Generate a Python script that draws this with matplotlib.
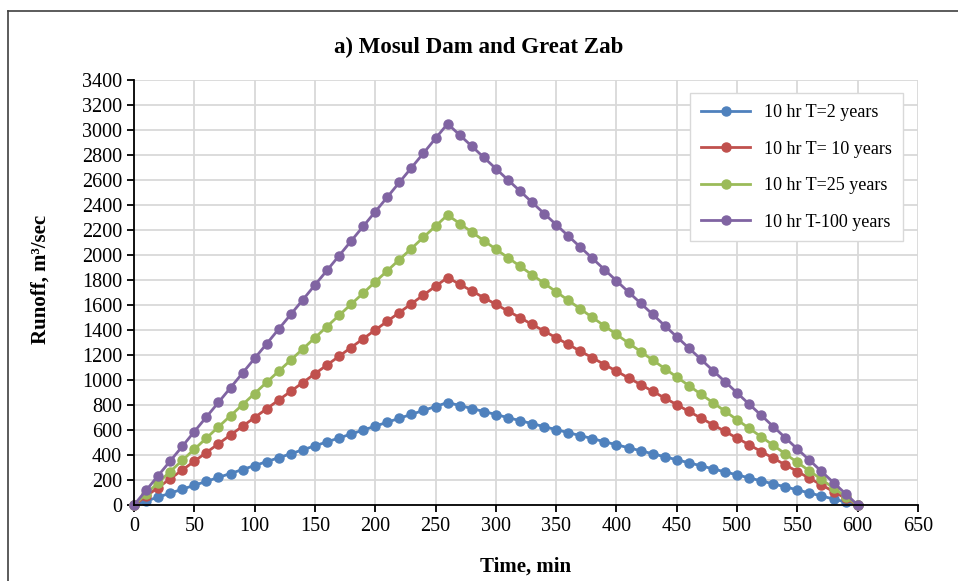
import matplotlib.pyplot as plt
from matplotlib.lines import Line2D

plt.rcParams['font.family'] = ['Liberation Serif', 'DejaVu Serif']

time_min = [0, 10, 20, 30, 40, 50, 60, 70, 80, 90, 100, 110, 120, 130, 140, 150,
            160, 170, 180, 190, 200, 210, 220, 230, 240, 250, 260, 270, 280, 290,
            300, 310, 320, 330, 340, 350, 360, 370, 380, 390, 400, 410, 420, 430,
            440, 450, 460, 470, 480, 490, 500, 510, 520, 530, 540, 550, 560, 570,
            580, 590, 600]

t2 = [0, 32, 63, 95, 126, 158, 189, 221, 252, 284, 315, 347, 378, 410, 442, 473,
      505, 536, 568, 599, 631, 662, 694, 725, 757, 788, 820,
      796, 772, 748, 724, 699, 675, 651, 627, 603, 579, 555, 531, 506, 482, 458,
      434, 410, 386, 362, 338, 314, 289, 265, 241, 217, 193, 169, 145, 121, 96,
      72, 48, 24, 0]

t10 = [0, 70, 140, 210, 280, 350, 420, 490, 560, 630, 700, 770, 840, 910, 980,
       1050, 1120, 1190, 1260, 1330, 1400, 1470, 1540, 1610, 1680, 1750, 1820,
       1766, 1713, 1659, 1606, 1552, 1499, 1445, 1392, 1338, 1285, 1231, 1178,
       1124, 1071, 1017, 964, 910, 856, 803, 749, 696, 642, 589, 535, 482, 428,
       375, 321, 268, 214, 161, 107, 54, 0]

t25 = [0, 89, 178, 268, 357, 446, 535, 625, 714, 803, 892, 982, 1071, 1160, 1249,
       1338, 1428, 1517, 1606, 1695, 1785, 1874, 1963, 2052, 2142, 2231, 2320,
       2252, 2184, 2115, 2047, 1979, 1911, 1842, 1774, 1706, 1638, 1569, 1501,
       1433, 1365, 1296, 1228, 1160, 1092, 1024, 955, 887, 819, 751, 682, 614,
       546, 478, 409, 341, 273, 205, 136, 68, 0]

t100 = [0, 117, 235, 352, 469, 587, 704, 821, 938, 1056, 1173, 1290, 1408, 1525,
        1642, 1760, 1877, 1994, 2112, 2229, 2346, 2463, 2581, 2698, 2815, 2933,
        3050, 2960, 2871, 2781, 2691, 2601, 2512, 2422, 2332, 2243, 2153, 2063,
        1974, 1884, 1794, 1704, 1615, 1525, 1435, 1346, 1256, 1166, 1076, 987,
        897, 807, 718, 628, 538, 448, 359, 269, 179, 90, 0]

labels = ["10 hr T=2 years", "10 hr T= 10 years", "10 hr T=25 years", "10 hr T-100 years"]
colors = ["#4F81BD", "#C0504D", "#9BBB59", "#8064A2"]

fig = plt.figure(figsize=(9.58, 5.81), dpi=100)
ax = fig.add_axes([0.1399, 0.1308, 0.8183, 0.7315])

for series, lab, col in zip([t2, t10, t25, t100], labels, colors):
    ax.plot(time_min, series, "-o", color=col, lw=2, ms=6.5, label=lab, clip_on=False)

ax.set_xlim(0, 650)
ax.set_ylim(0, 3400)
ax.set_xticks(range(0, 651, 50))
ax.set_yticks(range(0, 3401, 200))
ax.grid(True, color="#D9D9D9", lw=1.3)
ax.set_axisbelow(True)
for s in ["top", "right"]:
    ax.spines[s].set_visible(False)
for s in ["left", "bottom"]:
    ax.spines[s].set_linewidth(1.3)
ax.tick_params(axis="both", labelsize=14.5, length=5, width=1.3, direction="out")

# title is centred on the whole chart, as in Excel
fig.text(0.5, 1 - 47 / 581, "a) Mosul Dam and Great Zab", fontsize=16.5,
         fontweight="bold", ha="center", va="center")
ax.set_xlabel("Time, min", fontsize=15, fontweight="bold")
ax.set_ylabel("Runoff, m³/sec", fontsize=15, fontweight="bold")
ax.xaxis.set_label_coords(0.5, -0.122)
ax.yaxis.set_label_coords(-0.107, 0.53)

leg = ax.legend(loc="upper right", bbox_to_anchor=(0.981, 0.969), borderaxespad=0,
                fontsize=13, fancybox=False, edgecolor="#D9D9D9", framealpha=1,
                labelspacing=1.08, handlelength=2.7, borderpad=0.6)

# chart frame (only top and left edges visible in the crop)
fig.add_artist(Line2D([0.0084, 0.0084], [0, 0.981], color="#404040", lw=1.2))
fig.add_artist(Line2D([0.0084, 1], [0.981, 0.981], color="#404040", lw=1.2))

fig.savefig("out.png", dpi=100)
